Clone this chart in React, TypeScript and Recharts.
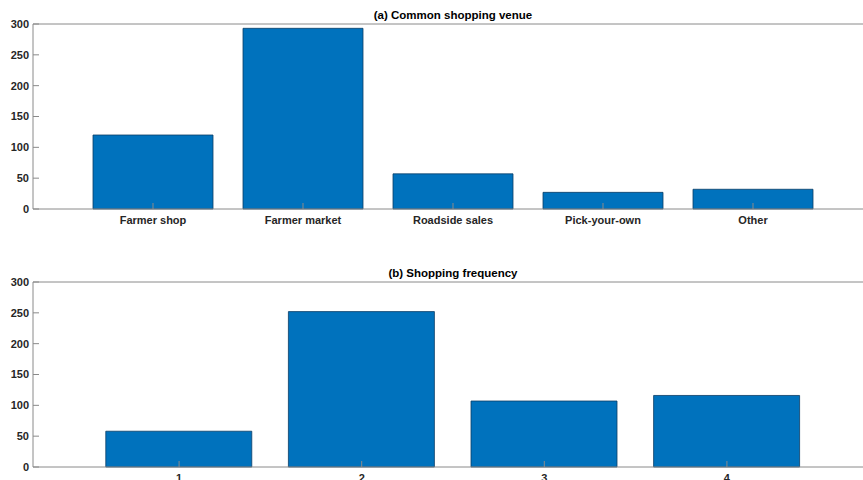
import { Bar, BarChart, XAxis, YAxis } from 'recharts'

const venueLabels = ['Farmer shop', 'Farmer market', 'Roadside sales', 'Pick-your-own', 'Other']
const venueCounts = [120, 293, 57, 27, 32]

const frequencyLabels = ['1', '2', '3', '4']
const frequencyCounts = [58, 252, 107, 116]

const yTicks = [0, 50, 100, 150, 200, 250, 300]

const BAR_FILL = '#0072BD'
const BAR_EDGE = '#0b3d66'
const AXIS_COLOR = '#8a8a8a'
const TEXT_COLOR = '#262626'
const FONT = '"Liberation Sans", Arial, Helvetica, sans-serif'

const tickStyle = { fill: TEXT_COLOR, fontSize: 11, fontWeight: 700, fontFamily: FONT }

interface PanelProps {
  title: string
  labels: string[]
  counts: number[]
  top: number
  marginTop: number
  marginBottom: number
  barSize: number
}

function Panel({ title, labels, counts, top, marginTop, marginBottom, barSize }: PanelProps) {
  const data = labels.map((label, i) => ({ pos: i + 1, label, count: counts[i] }))
  const positions = data.map((d) => d.pos)

  return (
    <div style={{ position: 'absolute', left: 0, top }}>
      <BarChart
        width={880}
        height={240}
        data={data}
        margin={{ top: marginTop, right: 7, bottom: marginBottom, left: 0 }}
      >
        <XAxis
          xAxisId="bottom"
          type="number"
          dataKey="pos"
          domain={[0.2, labels.length + 0.8]}
          ticks={positions}
          tickFormatter={(v: number) => labels[v - 1] ?? ''}
          allowDataOverflow
          height={20}
          tickSize={-6}
          tickMargin={13}
          tick={tickStyle}
          stroke={AXIS_COLOR}
          interval={0}
        />
        <XAxis
          xAxisId="top"
          orientation="top"
          type="number"
          dataKey="pos"
          domain={[0.2, labels.length + 0.8]}
          ticks={positions}
          allowDataOverflow
          height={1}
          tickSize={-6}
          tick={false}
          stroke={AXIS_COLOR}
          label={{
            value: title,
            position: 'top',
            offset: 4,
            fill: '#000',
            fontSize: 11.5,
            fontWeight: 700,
            fontFamily: FONT,
          }}
        />
        <YAxis
          width={33}
          domain={[0, 300]}
          ticks={yTicks}
          interval={0}
          tickSize={-6}
          tickMargin={10}
          tick={tickStyle}
          stroke={AXIS_COLOR}
        />
        <Bar
          xAxisId="bottom"
          dataKey="count"
          fill={BAR_FILL}
          stroke={BAR_EDGE}
          strokeWidth={0.8}
          barSize={barSize}
          isAnimationActive={false}
        />
      </BarChart>
    </div>
  )
}

export default function App() {
  return (
    <div
      style={{
        position: 'absolute',
        left: 0,
        top: 0,
        width: 863,
        height: 480,
        overflow: 'hidden',
        background: '#fff',
      }}
    >
      <Panel
        title="(a) Common shopping venue"
        labels={venueLabels}
        counts={venueCounts}
        top={0}
        marginTop={23}
        marginBottom={11}
        barSize={120}
      />
      <Panel
        title="(b) Shopping frequency"
        labels={frequencyLabels}
        counts={frequencyCounts}
        top={240}
        marginTop={41}
        marginBottom={-7}
        barSize={146}
      />
    </div>
  )
}
